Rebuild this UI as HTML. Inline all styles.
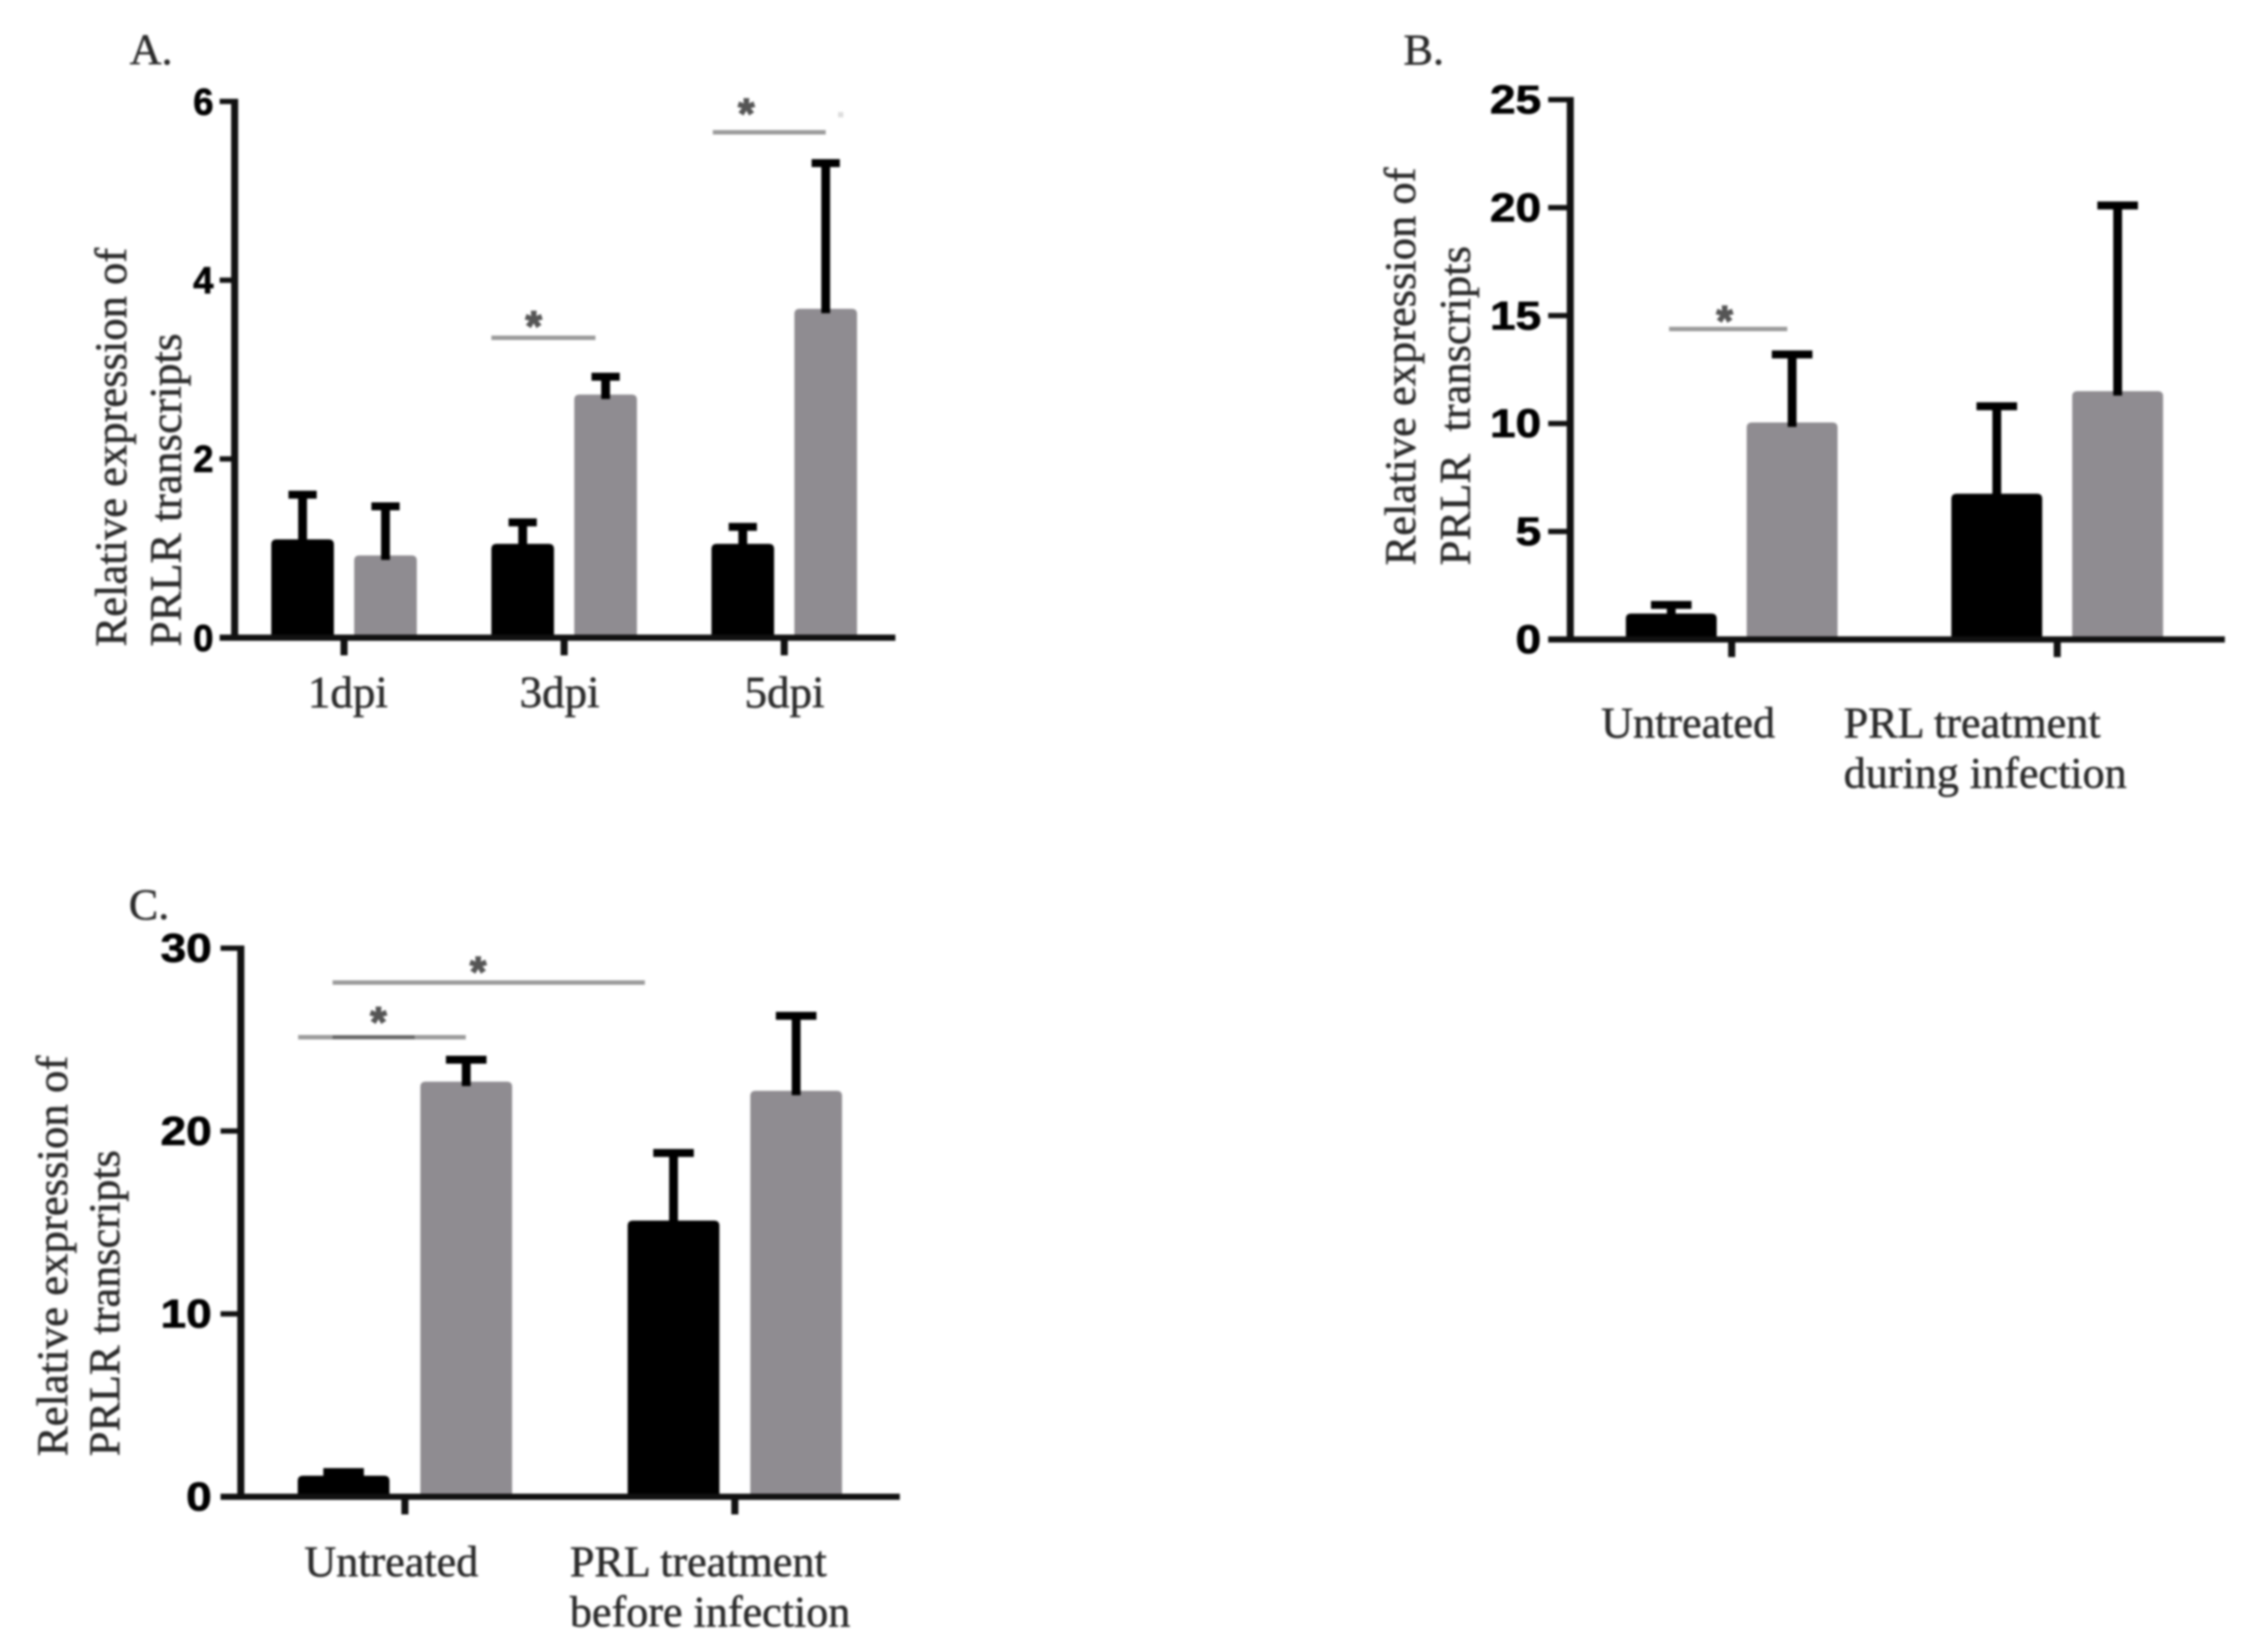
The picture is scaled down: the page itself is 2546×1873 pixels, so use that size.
<!DOCTYPE html>
<html lang="en">
<head>
<meta charset="utf-8">
<title>Relative expression of PRLR transcripts</title>
<style>
html,body{margin:0;padding:0;background:#fff;width:2546px;height:1873px;overflow:hidden}
#figure{display:block;filter:blur(1.3px)}
text{font-family:"Liberation Serif",serif;fill:#2a2a2a;stroke:#2a2a2a;stroke-width:.6px}
.tick{font-family:"Liberation Sans",sans-serif;font-weight:700;fill:#000;stroke:#000;stroke-width:.8px}
.star{font-family:"Liberation Sans",sans-serif;font-weight:700;font-size:48px;fill:#555;stroke:#555;stroke-width:1.5px;text-anchor:middle}
.sig{stroke:#9a9a9a;stroke-width:5}
</style>
</head>
<body>
<svg id="figure" xmlns="http://www.w3.org/2000/svg" width="2546" height="1873" viewBox="0 0 2546 1873">
  <g id="panel-a">
    <text x="147" y="73" font-size="50">A.</text>
    <text transform="translate(143,733) rotate(-90)" font-size="51" textLength="452" lengthAdjust="spacingAndGlyphs">Relative expression of</text>
    <text transform="translate(205,733) rotate(-90)" font-size="51" textLength="355" lengthAdjust="spacingAndGlyphs">PRLR transcripts</text>
    <line class="sig" x1="557" y1="383" x2="675" y2="383"/>
    <text class="star" x="605" y="386">*</text>
    <line class="sig" x1="808" y1="150" x2="936" y2="150"/>
    <text class="star" x="846" y="145">*</text>
    <rect x="950" y="127" width="6" height="6" fill="#ddd"/>
  </g>
  <g id="panel-b">
    <text x="1591" y="73" font-size="50">B.</text>
    <text transform="translate(1604,641) rotate(-90)" font-size="50" textLength="451" lengthAdjust="spacingAndGlyphs">Relative expression of</text>
    <text transform="translate(1666,641) rotate(-90)" font-size="50" textLength="362" lengthAdjust="spacingAndGlyphs" xml:space="preserve">PRLR  transcripts</text>
    <line class="sig" x1="1892" y1="373" x2="2026" y2="373"/>
    <text class="star" x="1955" y="380">*</text>
  </g>
  <g id="panel-c">
    <text x="146" y="1042" font-size="50">C.</text>
    <text transform="translate(76,1651) rotate(-90)" font-size="50" textLength="454" lengthAdjust="spacingAndGlyphs">Relative expression of</text>
    <text transform="translate(135,1651) rotate(-90)" font-size="50" textLength="347" lengthAdjust="spacingAndGlyphs">PRLR transcripts</text>
    <line class="sig" x1="377" y1="1114" x2="731" y2="1114"/>
    <text class="star" x="542" y="1118">*</text>
    <line class="sig" x1="338" y1="1176" x2="528" y2="1176"/>
    <line x1="377" y1="1176" x2="470" y2="1176" stroke="#666" stroke-width="4"/>
    <text class="star" x="429" y="1175">*</text>
  </g>
</svg>
<script>
// Panel A data
const aCategories = [['1dpi'], ['3dpi'], ['5dpi']];
const aBlack = [1.1, 1.05, 1.05];
const aGray = [0.92, 2.72, 3.68];
const aBlackErrTop = [1.6, 1.29, 1.24];
const aGrayErrTop = [1.47, 2.92, 5.31];
const aTicks = [0, 2, 4, 6];

// Panel B data
const bCategories = [['Untreated'], ['PRL treatment', 'during infection']];
const bBlack = [1.2, 6.75];
const bGray = [10.05, 11.5];
const bBlackErrTop = [1.6, 10.8];
const bGrayErrTop = [13.2, 20.1];
const bTicks = [0, 5, 10, 15, 20, 25];

// Panel C data
const cCategories = [['Untreated'], ['PRL treatment', 'before infection']];
const cBlack = [1.15, 15.1];
const cGray = [22.7, 22.2];
const cBlackErrTop = [1.35, 18.8];
const cGrayErrTop = [23.9, 26.3];
const cTicks = [0, 10, 20, 30];

const SVGNS = 'http://www.w3.org/2000/svg';

function shape(parent, tag, props) {
  const el = document.createElementNS(SVGNS, tag);
  for (const k in props) el.setAttribute(k, props[k]);
  parent.appendChild(el);
  return el;
}

function drawPanel(p) {
  const root = document.getElementById(p.id);
  const yMax = p.ticks[p.ticks.length - 1];
  const yScale = v => p.y0 - (v / yMax) * (p.y0 - p.yTop);
  const groupX = i => p.firstCenter + i * p.step;

  p.categories.forEach((cat, i) => {
    const c = groupX(i);
    const name = cat[0].toLowerCase().replace(/\s+/g, '-');
    const series = [
      {key: 'black', v: p.black[i], e: p.blackErr[i], x: c - p.gap / 2 - p.barW, fill: '#000'},
      {key: 'gray', v: p.gray[i], e: p.grayErr[i], x: c + p.gap / 2, fill: '#8f8c91'}
    ];
    series.forEach(s => {
      const cx = s.x + p.barW / 2;
      const bar = shape(root, 'path', {
        d: 'M' + s.x + ' ' + p.y0 + 'V' + (yScale(s.v) + 6) + 'Q' + s.x + ' ' + yScale(s.v) + ' ' + (s.x + 6) + ' ' + yScale(s.v) +
           'H' + (s.x + p.barW - 6) + 'Q' + (s.x + p.barW) + ' ' + yScale(s.v) + ' ' + (s.x + p.barW) + ' ' + (yScale(s.v) + 6) + 'V' + p.y0 + 'Z',
        fill: s.fill
      });
      
      
      const stem = shape(root, 'rect', {x: cx - 5, y: yScale(s.e), width: 10, height: yScale(s.v) - yScale(s.e) + 5, fill: '#000'});
      
      
      const cap = shape(root, 'rect', {x: cx - p.capW / 2, y: yScale(s.e) - 4.5, width: p.capW, height: 9, fill: '#000'});
      
      
    });

    const tick = shape(root, 'rect', {x: c - 4, y: p.y0, width: 8, height: 20, fill: '#111'});
    
    

    cat.forEach((line, j) => {
      const t = shape(root, 'text', {x: p.labelX[i], y: p.labelY + j * p.labelStep, 'font-size': p.labelSize});
      t.textContent = line;
      
      
    });
  });

  p.ticks.forEach(v => {
    const y = yScale(v);
    const m = shape(root, 'rect', {x: p.xAxis - p.tickLen, y: y - 3, width: p.tickLen, height: 6, fill: '#111'});
    
    
    const label = String(v);
    const t = shape(root, 'text', {
      class: 'tick', x: p.tickRight - label.length * p.digitW, y: y + p.tickSize * 0.345,
      'font-size': p.tickSize, textLength: label.length * p.digitW, lengthAdjust: 'spacingAndGlyphs'
    });
    t.textContent = label;
    
    
  });

  const yAxis = shape(root, 'rect', {x: p.xAxis - 4, y: p.yTop - 3, width: 8, height: p.y0 - p.yTop + 3, fill: '#111'});
  
  
  const xAxis = shape(root, 'rect', {x: p.xAxis - p.tickLen, y: p.y0 - 3.5, width: p.xEnd - p.xAxis + p.tickLen, height: 7, fill: '#111'});
  
  
}

drawPanel({id: 'panel-a', categories: aCategories, black: aBlack, gray: aGray, blackErr: aBlackErrTop, grayErr: aGrayErrTop, ticks: aTicks,
  xAxis: 266, xEnd: 1015, y0: 723, yTop: 115, firstCenter: 390, step: 249.5, barW: 71, gap: 23, capW: 32, tickLen: 17,
  tickRight: 242, digitW: 23, tickSize: 43, labelX: [349, 589, 844], labelY: 802, labelStep: 0, labelSize: 51});
drawPanel({id: 'panel-b', categories: bCategories, black: bBlack, gray: bGray, blackErr: bBlackErrTop, grayErr: bGrayErrTop, ticks: bTicks,
  xAxis: 1780, xEnd: 2522, y0: 725, yTop: 113, firstCenter: 1963, step: 369, barW: 103, gap: 34, capW: 46, tickLen: 25,
  tickRight: 1747, digitW: 29, tickSize: 45, labelX: [1815, 2090], labelY: 836, labelStep: 57, labelSize: 50});
drawPanel({id: 'panel-c', categories: cCategories, black: cBlack, gray: cGray, blackErr: cBlackErrTop, grayErr: cGrayErrTop, ticks: cTicks,
  xAxis: 273, xEnd: 1020, y0: 1697, yTop: 1075, firstCenter: 459, step: 374, barW: 104, gap: 35, capW: 46, tickLen: 23,
  tickRight: 240, digitW: 29, tickSize: 45, labelX: [345, 646], labelY: 1787, labelStep: 57, labelSize: 50});
</script>
</body>
</html>
